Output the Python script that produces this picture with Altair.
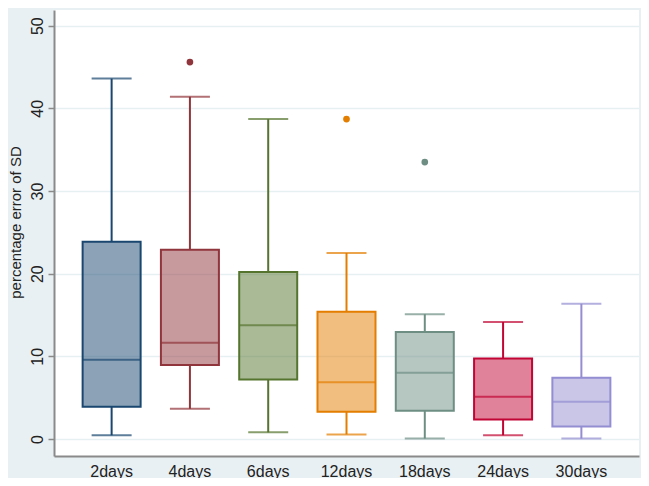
import altair as alt
import pandas as pd

cats = ["2days", "4days", "6days", "12days", "18days", "24days", "30days"]
lower = [0.45, 3.65, 0.8, 0.55, 0.05, 0.45, 0.05]
q1 = [3.9, 8.95, 7.2, 3.3, 3.4, 2.35, 1.5]
median = [9.6, 11.65, 13.75, 6.85, 8.0, 5.1, 4.5]
q3 = [23.85, 22.9, 20.2, 15.4, 12.95, 9.75, 7.4]
upper = [43.6, 41.4, 38.7, 22.5, 15.1, 14.15, 16.35]
out_cats = ["4days", "12days", "18days"]
out_vals = [45.6, 38.7, 33.5]
colors = ["#1a476f", "#90353b", "#55752f", "#e37e00", "#6e8e84", "#c10534", "#938dd2"]
ytitle = "percentage error of SD"

df = pd.DataFrame({"cat": cats, "lower": lower, "q1": q1, "median": median,
                   "q3": q3, "upper": upper})
dfo = pd.DataFrame({"cat": out_cats, "val": out_vals})

FONT = "Liberation Sans"

x = alt.X("cat:N", sort=cats,
          scale=alt.Scale(domain=cats, paddingInner=0, paddingOuter=0.236),
          axis=alt.Axis(title=None, ticks=False, labelAngle=0, labelFontSize=16,
                        labelFont=FONT, labelColor="#222222", labelPadding=7,
                        domainColor="#8a8a8a", domainWidth=2, grid=False))
yscale = alt.Scale(domain=[-2.06, 51.9], nice=False, zero=False)
yaxis = alt.Axis(title=ytitle, values=[0, 10, 20, 30, 40, 50], labelAngle=270,
                 labelAlign="center", labelBaseline="bottom", labelFontSize=16,
                 labelFont=FONT, labelColor="#222222", labelPadding=3,
                 tickSize=6, tickColor="#8a8a8a", tickWidth=1.5,
                 domainColor="#8a8a8a", domainWidth=2,
                 gridColor="#e6eff1", gridWidth=1.5,
                 titleFont=FONT, titleFontSize=15, titleFontWeight="normal",
                 titleColor="#222222", titleAngle=270, titleAlign="center",
                 titleBaseline="bottom", titleX=-31, titleY=212)
color = alt.Color("cat:N", scale=alt.Scale(domain=cats, range=colors), legend=None)

base = alt.Chart(df)

wlow = base.mark_rule(strokeWidth=2).encode(
    x=x, y=alt.Y("lower:Q", scale=yscale, axis=yaxis), y2="q1:Q", color=color)
whigh = base.mark_rule(strokeWidth=2).encode(
    x=x, y=alt.Y("q3:Q", scale=yscale, axis=yaxis), y2="upper:Q", color=color)
box = base.mark_bar(size=58, fillOpacity=0.5, strokeWidth=2).encode(
    x=x, y=alt.Y("q1:Q", scale=yscale, axis=yaxis), y2="q3:Q",
    fill=color, stroke=color)
med = base.mark_tick(size=58, thickness=2).encode(
    x=x, y=alt.Y("median:Q", scale=yscale, axis=yaxis), color=color)
capl = base.mark_tick(size=40, thickness=2).encode(
    x=x, y=alt.Y("lower:Q", scale=yscale, axis=yaxis), color=color)
caph = base.mark_tick(size=40, thickness=2).encode(
    x=x, y=alt.Y("upper:Q", scale=yscale, axis=yaxis), color=color)
outl = alt.Chart(dfo).mark_point(filled=True, size=45, opacity=1).encode(
    x=x, y=alt.Y("val:Q", scale=yscale, axis=yaxis), color=color)

chart = alt.layer(wlow, whigh, box, med, capl, caph, outl).properties(
    width=585, height=446,
    padding={"left": 46, "top": 2, "right": 2, "bottom": 22},
    autosize=alt.AutoSizeParams(type="none"),
    background="#e9f0f3",
).configure_view(fill="white", stroke=None)

chart.save("out.html", embed_options={"renderer": "svg", "actions": False})
